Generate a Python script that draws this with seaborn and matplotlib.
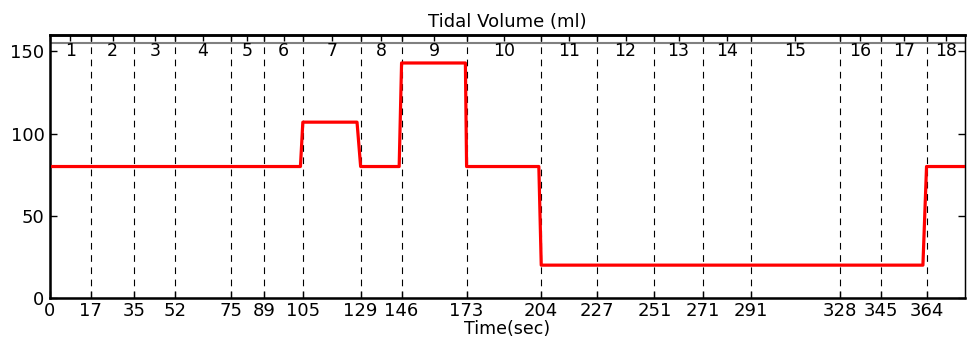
import numpy as np
import pandas as pd
import matplotlib
matplotlib.use("Agg")
import matplotlib.pyplot as plt
import seaborn as sns

###########################################################################################
# Data
###########################################################################################

boundaries = [0, 17, 35, 52, 75, 89, 105, 129, 146, 173, 204, 227, 251, 271, 291, 328, 345, 364]
x_max = 380
segment_labels = [str(i) for i in range(1, 19)]

time_pts = [0, 104, 105, 127.5, 129, 145, 146, 172.5, 173, 203, 204, 362.5, 364, 380]
tidal_volume = [80, 80, 107, 107, 80, 80, 143, 143, 80, 80, 20, 20, 80, 80]

y_ticks = [0, 50, 100, 150]
ref_level = 155

###########################################################################################
# Plot
###########################################################################################

sns.set_style("ticks")
plt.rcParams['font.family'] = ['DejaVu Sans']
plt.rcParams['font.size'] = 13
for key in ['text.color', 'axes.labelcolor', 'xtick.color', 'ytick.color', 'axes.edgecolor']:
    plt.rcParams[key] = 'black'

df = pd.DataFrame({'time': time_pts, 'volume': tidal_volume})

fig = plt.figure(figsize=(9.67, 3.37), dpi=100)
ax = fig.add_axes([0.0517, 0.1157, 0.998 - 0.0517, 0.896 - 0.1157])

# segment boundaries
for b in boundaries[1:]:
    ax.axvline(b, color='black', lw=0.8, linestyle=(0, (6, 5)), zorder=1)

ax.axhline(ref_level, color='grey', lw=1.5, zorder=1)

sns.lineplot(data=df, x='time', y='volume', color='red', lw=2.3,
             estimator=None, sort=False, ax=ax, zorder=3)

# segment numbers
edges = boundaries + [x_max]
mids = [(edges[i] + edges[i + 1]) / 2 for i in range(len(edges) - 1)]
for m, lab in zip(mids, segment_labels):
    ax.text(m, 150, lab, ha='center', va='center', fontsize=12.5)

ax.set_xlim(0, x_max)
ax.set_ylim(0, 160)
ax.set_xticks(boundaries)
ax.set_yticks(y_ticks)
ax.tick_params(direction='in', length=5, width=1, right=True, labelsize=13)
ax.tick_params(axis='x', pad=3)
ax.tick_params(axis='y', pad=4)
ax.set_title('Tidal Volume (ml)', fontsize=13, pad=6)
ax.set_xlabel('Time(sec)', fontsize=12.5, labelpad=0)
ax.set_ylabel('')
for side in ['left', 'bottom', 'top']:
    ax.spines[side].set_linewidth(1.8)
ax.spines['right'].set_visible(True)
ax.spines['right'].set_linewidth(1.0)

# top ticks at boundaries and segment centres
top = ax.twiny()
top.set_xlim(ax.get_xlim())
top.set_xticks(sorted(boundaries + mids))
top.tick_params(direction='in', length=4, width=1, labeltop=False)
top.spines['top'].set_linewidth(1.8)

plt.savefig('out.png', dpi=100)
plt.close('all')
